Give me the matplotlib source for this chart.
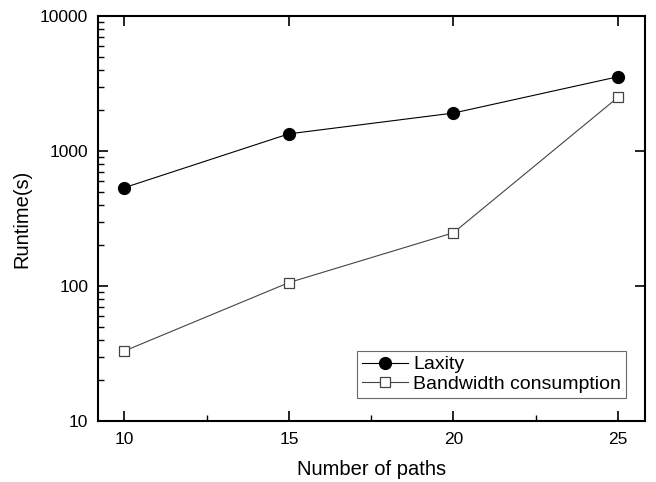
import numpy as np
import matplotlib
matplotlib.use('Agg')
import matplotlib.pyplot as plt
from matplotlib.ticker import LogLocator, FixedLocator, NullFormatter

plt.rcParams['font.family'] = ['Liberation Sans', 'DejaVu Sans']

paths     = [10, 15, 20, 25]
laxity    = [535, 1340, 1910, 3550]
bandwidth = [33, 106, 248, 2500]

fig = plt.figure(figsize=(6.56, 4.82), dpi=100)
ax = fig.add_axes([98 / 656, 1 - 421 / 482, 547 / 656, 405 / 482])

ax.plot(paths, laxity, color='black', lw=0.8, marker='o', ms=8.5,
        mfc='black', mec='black', label='Laxity')
ax.plot(paths, bandwidth, color='#444444', lw=0.8, marker='s', ms=7,
        mfc='white', mec='#444444', mew=0.9, label='Bandwidth consumption')

ax.set_yscale('log')
ax.set_xlim(9.2, 25.82)
ax.set_ylim(10, 10000)

ax.set_xticks([10, 15, 20, 25])
ax.xaxis.set_minor_locator(FixedLocator([12.5, 17.5, 22.5]))
ax.yaxis.set_major_locator(FixedLocator([10, 100, 1000, 10000]))
ax.set_yticklabels(['10', '100', '1000', '10000'])
ax.yaxis.set_minor_locator(LogLocator(base=10, subs=np.arange(2, 10)))
ax.yaxis.set_minor_formatter(NullFormatter())

ax.tick_params(which='major', direction='in', length=7, width=1.2,
               labelsize=12.5, top=True, right=True, pad=8)
ax.tick_params(axis='y', which='major', pad=7)
ax.tick_params(which='minor', direction='in', length=4, width=1.0,
               top=False, right=False)
for spine in ax.spines.values():
    spine.set_linewidth(1.5)

ax.set_xlabel('Number of paths', fontsize=14.5, labelpad=9)
ax.set_ylabel('Runtime(s)', fontsize=14.5, labelpad=6)

leg = ax.legend(loc='lower right', bbox_to_anchor=(0.965, 0.057), fontsize=14,
                frameon=True, fancybox=False, edgecolor='#444444',
                borderpad=0.25, labelspacing=0.1, handlelength=2.4,
                handletextpad=0.25, borderaxespad=0)
leg.get_frame().set_linewidth(0.8)

fig.savefig('out.png', dpi=100)
